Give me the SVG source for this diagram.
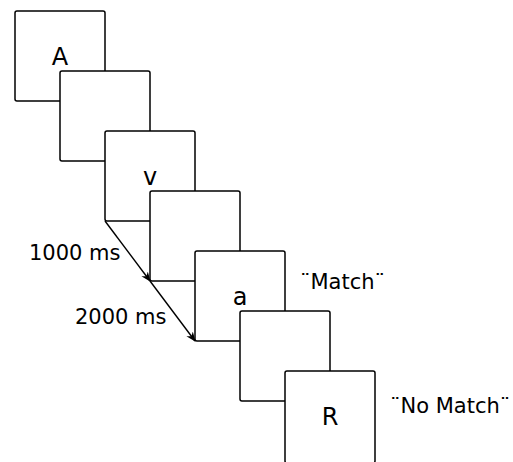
<svg xmlns="http://www.w3.org/2000/svg" width="513" height="462" viewBox="0 0 513 462">
  <style>
    .frame { fill: #ffffff; stroke: #000000; stroke-width: 1.5; }
    .stim { font-family: "DejaVu Sans", sans-serif; font-size: 24px; text-anchor: middle; fill: #000000; }
    .lbl { font-family: "DejaVu Sans", sans-serif; font-size: 21px; fill: #000000; }
    .arrow { stroke: #000000; stroke-width: 1.4; fill: none; marker-end: url(#head); }
  </style>
  <defs>
    <marker id="head" markerWidth="10" markerHeight="10" refX="9" refY="5" orient="auto" markerUnits="userSpaceOnUse">
      <path d="M0,1 L10,5 L0,9 L3,5 Z" fill="#000000"/>
    </marker>
  </defs>
  <rect width="513" height="462" fill="#ffffff"/>

  <!-- stimulus frames, each shifted 45 right and 60 down -->
  <g id="frame-A"><rect class="frame" x="15" y="11" width="90" height="90" rx="2"/><text class="stim" x="60" y="65">A</text></g>
  <g id="frame-blank1"><rect class="frame" x="60" y="71" width="90" height="90" rx="2"/></g>
  <g id="frame-v"><rect class="frame" x="105" y="131" width="90" height="90" rx="2"/><text class="stim" x="150" y="185">v</text></g>
  <g id="frame-blank2"><rect class="frame" x="150" y="191" width="90" height="90" rx="2"/></g>
  <g id="frame-a"><rect class="frame" x="195" y="251" width="90" height="90" rx="2"/><text class="stim" x="240" y="305">a</text></g>
  <g id="frame-blank3"><rect class="frame" x="240" y="311" width="90" height="90" rx="2"/></g>
  <g id="frame-R"><rect class="frame" x="285" y="371" width="90" height="92" rx="2"/><text class="stim" x="330" y="425">R</text></g>

  <!-- timing arrows -->
  <g id="connectors">
    <line class="arrow" x1="105" y1="221" x2="150" y2="281"/>
    <line class="arrow" x1="150" y1="281" x2="195" y2="341"/>
  </g>

  <g id="labels">
    <text class="lbl" x="29" y="260">1000 ms</text>
    <text class="lbl" x="75" y="324">2000 ms</text>
    <text class="lbl" x="300" y="289">¨Match¨</text>
    <text class="lbl" x="390" y="413">¨No Match¨</text>
  </g>
</svg>
